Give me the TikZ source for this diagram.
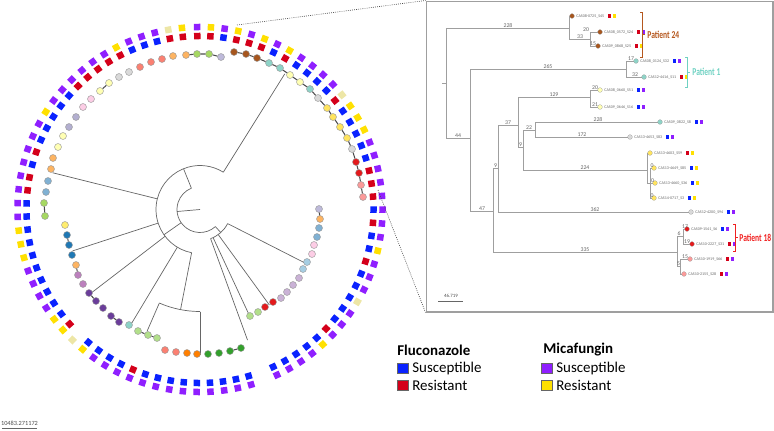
\documentclass[tikz,border=0pt]{standalone}
\usepackage{fontspec}
\setmainfont{Carlito}
\usetikzlibrary{positioning}

% resistance squares
\definecolor{sqB}{HTML}{0A22FF}
\definecolor{sqR}{HTML}{D4001A}
\definecolor{sqP}{HTML}{8F1FFF}
\definecolor{sqY}{HTML}{FFE000}
\definecolor{sqK}{HTML}{EDE6A6}
% tip colours
\definecolor{tgreen}{HTML}{A6D862}
\definecolor{tlav}{HTML}{BEBADA}
\definecolor{tgraylav}{HTML}{B3AFD0}
\definecolor{tbrown}{HTML}{A6561E}
\definecolor{tteal}{HTML}{8DD3C7}
\definecolor{tpale}{HTML}{FFFFB3}
\definecolor{tgray}{HTML}{D9D9D9}
\definecolor{tyellow}{HTML}{FFE45E}
\definecolor{tyellow2}{HTML}{FFED6F}
\definecolor{tred}{HTML}{E31A1C}
\definecolor{tsalmon}{HTML}{FB9A99}
\definecolor{torange}{HTML}{FDB462}
\definecolor{torange2}{HTML}{FF7F00}
\definecolor{tsteel}{HTML}{80B1D3}
\definecolor{tpink}{HTML}{FCCDE5}
\definecolor{tlblue}{HTML}{A6CEE3}
\definecolor{tlpurple}{HTML}{CAB2D6}
\definecolor{tpgreen}{HTML}{B2DF8A}
\definecolor{tdgreen}{HTML}{33A02C}
\definecolor{tcoral}{HTML}{FB8072}
\definecolor{tdpurple}{HTML}{6A3D9A}
\definecolor{torchid}{HTML}{BC80BD}
\definecolor{tblue}{HTML}{1F78B4}
% patient brackets
\definecolor{p24}{HTML}{B5581F}
\definecolor{p1}{HTML}{6FD1C2}
\definecolor{p18}{HTML}{F02020}

\begin{document}
\begin{tikzpicture}[x=0.02cm, y=-0.02cm,
    tip/.style={circle, draw=gray!80, line width=0.25pt, inner sep=0pt, minimum size=0.14cm},
    sq/.style={inner sep=0pt, minimum size=0.13cm},
    branch/.style={draw=black!60, line width=0.4pt},
    chain/.style={draw=black!70, line width=0.6pt},
    zoomline/.style={draw=black!70, line width=0.35pt, dash pattern=on 0.5pt off 0.7pt},
    itree/.style={draw=gray!75, line width=0.45pt},
    itip/.style={circle, draw=gray!70, line width=0.15pt, inner sep=0pt, minimum size=0.095cm},
    iname/.style={font=\fontsize{2.3}{2.6}\selectfont, text=black!60, inner sep=0.3pt},
    isq/.style={inner sep=0pt, minimum width=0.06cm, minimum height=0.075cm},
    ilbl/.style={font=\fontsize{3.3}{3.6}\selectfont, text=black!60, inner sep=0.3pt, anchor=south},
    ptlbl/.style={font=\bfseries\fontsize{6}{6}\selectfont, anchor=west, inner sep=0pt},
    legsq/.style={draw=black!60, line width=0.3pt, inner sep=0pt, minimum size=0.21cm},
    legtxt/.style={font=\fontsize{8.5}{10}\selectfont, inner sep=0pt},
    legtitle/.style={font=\bfseries\fontsize{8.5}{10}\selectfont, anchor=west, inner sep=0pt}]
\useasboundingbox (0,0) rectangle (774,430);
\coordinate (ctr) at (200,209.5);

% circular tree: inner branches
\begin{scope}[shift={(ctr)}]
    \coordinate (root) at (0,0);
    \coordinate (nL) at (175:23);
    \coordinate (nLa) at (48:23);
    \coordinate (nLb) at (248:23);
    \coordinate (nLc) at (145:23);
    \draw[branch] (root) -- (nL);
    \draw[branch] (nLa) arc[start angle=48, end angle=248, radius=23];
    % upper left clades
    \coordinate (nU) at (248:44);
    \coordinate (nUa) at (194:44);
    \coordinate (nUb) at (302:44);
    \draw[branch] (nLb) -- (nU);
    \draw[branch] (nUa) arc[start angle=194, end angle=302, radius=44];
    \coordinate (eU1) at (302:160);
    \coordinate (eU2) at (194:152);
    \draw[branch] (nUb) -- (eU1);
    \draw[branch] (nUa) -- (eU2);
    % lower left clades
    \coordinate (nM) at (145:44);
    \coordinate (nMa) at (101:44);
    \draw[branch] (nLc) -- (nM);
    \draw[branch] (nMa) arc[start angle=101, end angle=194, radius=44];
    \foreach \a/\r in {162/134, 142.5/139, 121/135}{
        \draw[branch] (\a:44) -- (\a:\r);
    }
    \coordinate (nB) at (101:102);
    \coordinate (nBa) at (90:102);
    \draw[branch] (nMa) -- (nB);
    \draw[branch] (nBa) arc[start angle=90, end angle=113.5, radius=102];
    \coordinate (eB1) at (113.5:133);
    \coordinate (eB2) at (90:145);
    \draw[branch] (113.5:102) -- (eB1);
    \draw[branch] (nBa) -- (eB2);
    % right clades
    \coordinate (nR) at (48:31);
    \coordinate (nRa) at (27:31);
    \draw[branch] (nLa) -- (nR);
    \draw[branch] (nRa) arc[start angle=27, end angle=70, radius=31];
    \foreach \a/\r in {27/117, 54/118, 65/118, 70/139}{
        \draw[branch] (\a:31) -- (\a:\r);
    }
\end{scope}

% tips of the circular tree
\foreach \k/\x/\y/\c in {
    1/197/54/tgreen, 2/209/54/tgreen, 3/221/57/tlav, 4/234/52/tbrown, 5/246/54/tbrown,
    6/257/58/tbrown, 7/269/63/tteal, 8/280/68/tteal, 9/290/75/tpale, 10/300/82/tpale,
    11/310/89/tteal, 12/318/98/tgray, 13/327/108/tyellow, 14/333/117/tyellow, 15/340/127/tyellow,
    16/347/138/tyellow, 17/352/149/tgray, 18/356/162/tred, 19/359/173/tred, 20/361/185/tsalmon,
    21/363/197/tsalmon, 22/319/209/tlav, 23/320/219/torange, 24/319/228/tsteel, 25/317/237/tsteel,
    26/314/245/tpink, 27/312/254/tpink, 28/307/262/tlblue, 29/303/269/tlblue, 30/299/278/tlpurple,
    31/293/285/tlpurple, 32/287/292/tlpurple, 33/281/298/tlpurple, 34/273/302/tred, 35/265/307/tred,
    36/258/312/tpgreen, 37/250/316/tpgreen,
    39/241/348/tdgreen, 40/230/351/tdgreen, 41/219/353/tdgreen, 42/208/354/tdgreen,
    43/197/354/torange2, 44/187/353/torange2, 45/176/352/tcoral, 46/165/350/tcoral,
    47/157/338/tpgreen, 48/148/335/tpgreen, 49/138/331/tpgreen, 50/129/325/tteal,
    51/119/322/tdpurple, 52/111/316/tdpurple, 53/103/308/tdpurple, 54/96/301/tdpurple, 55/89/293/tdpurple,
    56/83/284/torchid, 57/78/275/torchid, 58/76/265/torange, 59/72/255/tblue, 60/69/245/tblue,
    61/67/235/tblue, 62/65/225/tyellow2, 63/45/216/tgreen, 64/44/203/tgreen, 65/46/192/tsteel,
    66/48/181/tsteel, 67/51/169/torange, 68/53/158/torange, 69/58/147/tpale, 70/63/136/tpale,
    71/69/127/tgraylav, 72/76/117/tgraylav, 73/83/107/tpink, 74/91/99/tpink, 75/100/91/tpale,
    76/109/83/tpale, 77/119/77/tgray, 78/129/72/tgray, 79/140/67/tcoral, 80/151/62/tcoral,
    81/162/59/tcoral, 82/173/56/torange, 83/186/55/torange}{
    \node[tip, fill=\c] (t\k) at (\x,\y) {};
}

% clade arcs joining neighbouring tips
\foreach \k in {4,...,20, 22,...,36, 39,...,45, 47,48, 51,...,61, 63,...,82}{
    \pgfmathtruncatemacro\n{\k+1}
    \draw[chain] (t\k) -- (t\n);
}
\draw[chain] (t83) -- (t1) -- (t2) -- (t3);

% resistance rings: fluconazole inside, micafungin outside
\begin{scope}[shift={(ctr)}]
\foreach \k/\m/\f in {1/P/R, 2/Y/R, 3/P/B, 4/Y/R, 5/P/R, 6/Y/R, 7/P/B, 8/Y/R, 9/P/B, 10/P/B,
    11/P/B, 12/P/B, 13/K/R, 14/Y/B, 15/Y/B, 16/Y/B, 17/P/B, 18/P/B, 19/P/R, 20/P/R,
    21/P/R, 22/P/B, 23/P/R, 24/P/B, 25/Y/B, 26/P/R, 27/P/B, 28/P/B, 29/K/B, 30/P/B,
    31/P/B, 32/P/R, 33/Y/B, 34/P/B, 35/P/B, 36/P/B, 37/P/B, 38/N/N, 39/P/B, 40/P/B,
    41/P/B, 42/P/B, 43/P/B, 44/P/B, 45/P/B, 46/P/B, 47/P/B, 48/P/R, 49/P/B, 50/P/B,
    51/P/B, 52/Y/B, 53/K/N, 54/Y/R, 55/Y/B, 56/P/B, 57/P/B, 58/P/B, 59/P/B, 60/Y/B,
    61/Y/B, 62/Y/B, 63/P/B, 64/P/B, 65/P/R, 66/P/R, 67/P/B, 68/P/R, 69/P/B, 70/P/B,
    71/Y/B, 72/P/B, 73/P/B, 74/P/R, 75/P/R, 76/P/R, 77/P/R, 78/Y/R, 79/P/B, 80/P/B,
    81/P/B, 82/K/R, 83/Y/R}{
    \pgfmathsetmacro\ang{-90.9+(\k-1)*4.332}
    \if\m N\else
        \node[sq, fill=sq\m, rotate=-\ang] (m\k) at (\ang:182.5) {};
    \fi
    \if\f N\else
        \node[sq, fill=sq\f, rotate=-\ang] (f\k) at (\ang:173.5) {};
    \fi
}
\end{scope}

% scale bar of the circular tree
\coordinate (sb1) at (2,428);
\coordinate (sb2) at (37,428);
\draw[black!60, line width=0.4pt] (sb1) -- (sb2);
\node[font=\fontsize{3.6}{4}\selectfont, text=black!70, inner sep=0pt] (sbl) at (19.5,423.5) {10483.271172};

% zoomed clade
\node[draw=gray!75, line width=0.6pt, minimum width=6.94cm, minimum height=6.22cm, inner sep=0pt] (inset) at (599.5,156.5) {};
\coordinate (zA) at (237,25);
\coordinate (zB) at (378,190);
\draw[zoomline] (zA) -- (inset.north west);
\draw[zoomline] (zB) -- (inset.south west);

% inset tips: name, position, colour, fluconazole, micafungin
\foreach \n/\x/\y/\c/\lab/\u/\v in {
    a1/572/16/tbrown/CAS08-0725\_S45/R/Y, a2/600/32/tbrown/CAS08\_0572\_S24/R/P,
    a3/598/46/tbrown/CAS09\_0868\_S25/R/Y, b1/636/61/tteal/CAS08\_0124\_S32/B/P,
    b2/644/77/tteal/CAS12-4416\_S11/R/Y, c1/600/90/tpale/CAS08\_0660\_S51/B/P,
    c2/600/107/tpale/CAS09\_0646\_S16/B/P, d1/660/122/tteal/CAS09\_0822\_S8/B/P,
    d2/630/137/tgray/CAS13-4653\_S83/B/P, e1/650/153/tyellow/CAS13-4603\_S59/R/Y,
    e2/654/168/tyellow/CAS13-4649\_S85/B/Y, e3/655/183/tyellow/CAS13-4660\_S36/B/Y,
    e4/654/198/tyellow/CAS14-0717\_S3/B/Y, f1/691/212/tgray/CAS12-4200\_S94/B/P,
    g1/687/229/tred/CAS09-1541\_S6/B/P, g2/692/244/tred/CAS10-2227\_S31/R/P,
    g3/690/259/tsalmon/CAS10-1919\_S66/R/P, g4/684/274/tsalmon/CAS10-2155\_S28/R/P}{
    \node[itip, fill=\c] (c\n) at (\x,\y) {};
    \node[iname, right=0.6pt of c\n] (l\n) {\lab};
    \node[isq, fill=sq\u, right=1.6pt of l\n] (q\n) {};
    \node[isq, fill=sq\v, right=0.5pt of q\n] (r\n) {};
}

% inset inner nodes
\coordinate (iR0) at (442,83);
\coordinate (iR) at (446,83);
\coordinate (iA) at (569,28);
\coordinate (iA2) at (590,39);
\coordinate (iB) at (470,138);
\coordinate (ib) at (626,69);
\coordinate (iC) at (493,211);
\coordinate (iD) at (498,168);
\coordinate (iE) at (518,125);
\coordinate (ic) at (590,97);
\coordinate (iG) at (523,147);
\coordinate (iH) at (535,130);
\coordinate (ie) at (647,170);
\coordinate (ie2) at (650,183);
\coordinate (iP) at (677,252);
\coordinate (iS1) at (683,236);
\coordinate (iS2) at (680,266);
\draw[itree] (iR0) -- (iR);
\foreach \a/\b in {iR/iA, iR/iB, iA/ca1, iA/iA2, iA2/ca2, iA2/ca3, iB/ib, iB/iC,
    ib/cb1, ib/cb2, iC/iD, iC/iP, iD/iE, iD/cf1, iE/ic, iE/iG, ic/cc1, ic/cc2,
    iG/iH, iG/ie, iH/cd1, iH/cd2, ie/ce1, ie/ie2, ie2/ce2, ie2/ce3, ie2/ce4,
    iP/iS1, iP/iS2, iS1/cg1, iS1/cg2, iS2/cg3, iS2/cg4}{
    \draw[itree] (\a) |- (\b);
}

% branch lengths
\foreach \n/\x/\y/\t in {1/508/28/228, 2/580/39/33, 3/586/32/20, 4/593/46/15, 5/458/138/44,
    6/548/69/265, 7/631/61/17, 8/635/77/32, 9/482/211/47, 10/495.5/168/9, 11/508/125/37,
    12/554/97/129, 13/595/90/20, 14/595/107/21, 15/520.5/147/9, 16/529/130/22,
    17/598/122/228, 18/582/137/172, 19/585/170/224, 20/595/212/362, 21/585/252/335,
    22/679/236/6, 23/678.5/266/5, 24/685/229/17, 25/687/244/19, 26/685/259/15,
    27/652/168/0, 28/652.5/183/0, 29/652/198/0}{
    \node[ilbl] (bl\n) at (\x,\y) {\t};
}

% inset scale bar
\coordinate (is1) at (438,301);
\coordinate (is2) at (463,301);
\draw[black!60, line width=0.4pt] (is1) -- (is2);
\node[font=\fontsize{2.8}{3}\selectfont, text=black!70, inner sep=0pt] (isl) at (451,296) {46.719};

% patients
\draw[p24, line width=0.5pt] (640,12) -- (642,12) -- (642,57) -- (640,57) (642,34.5) -- (644.5,34.5);
\node[ptlbl, text=p24] (pt24) at (647,35) {\scalebox{0.72}[1]{Patient 24}};
\draw[p1, line width=0.5pt] (685,57) -- (687,57) -- (687,87) -- (685,87) (687,72) -- (689.5,72);
\node[ptlbl, text=p1] (pt1) at (692,72) {\scalebox{0.72}[1]{Patient 1}};
\draw[p18, line width=0.5pt] (733,224) -- (735,224) -- (735,251) -- (733,251) (735,237.5) -- (737.5,237.5);
\node[ptlbl, text=p18] (pt18) at (739,238) {\scalebox{0.72}[1]{Patient 18}};

% legend
\node[legtitle] (fluT) at (397,350) {Fluconazole};
\node[legsq, fill=sqB] (fluS) at (403,368.5) {};
\node[legtxt, right=2pt of fluS] (fluSt) {Susceptible};
\node[legsq, fill=sqR] (fluR) at (403,385.5) {};
\node[legtxt, right=2pt of fluR] (fluRt) {Resistant};
\node[legtitle] (micT) at (543,350) {Micafungin};
\node[legsq, fill=sqP] (micS) at (547,368.5) {};
\node[legtxt, right=2pt of micS] (micSt) {Susceptible};
\node[legsq, fill=sqY] (micR) at (547,385.5) {};
\node[legtxt, right=2pt of micR] (micRt) {Resistant};
\end{tikzpicture}
\end{document}
